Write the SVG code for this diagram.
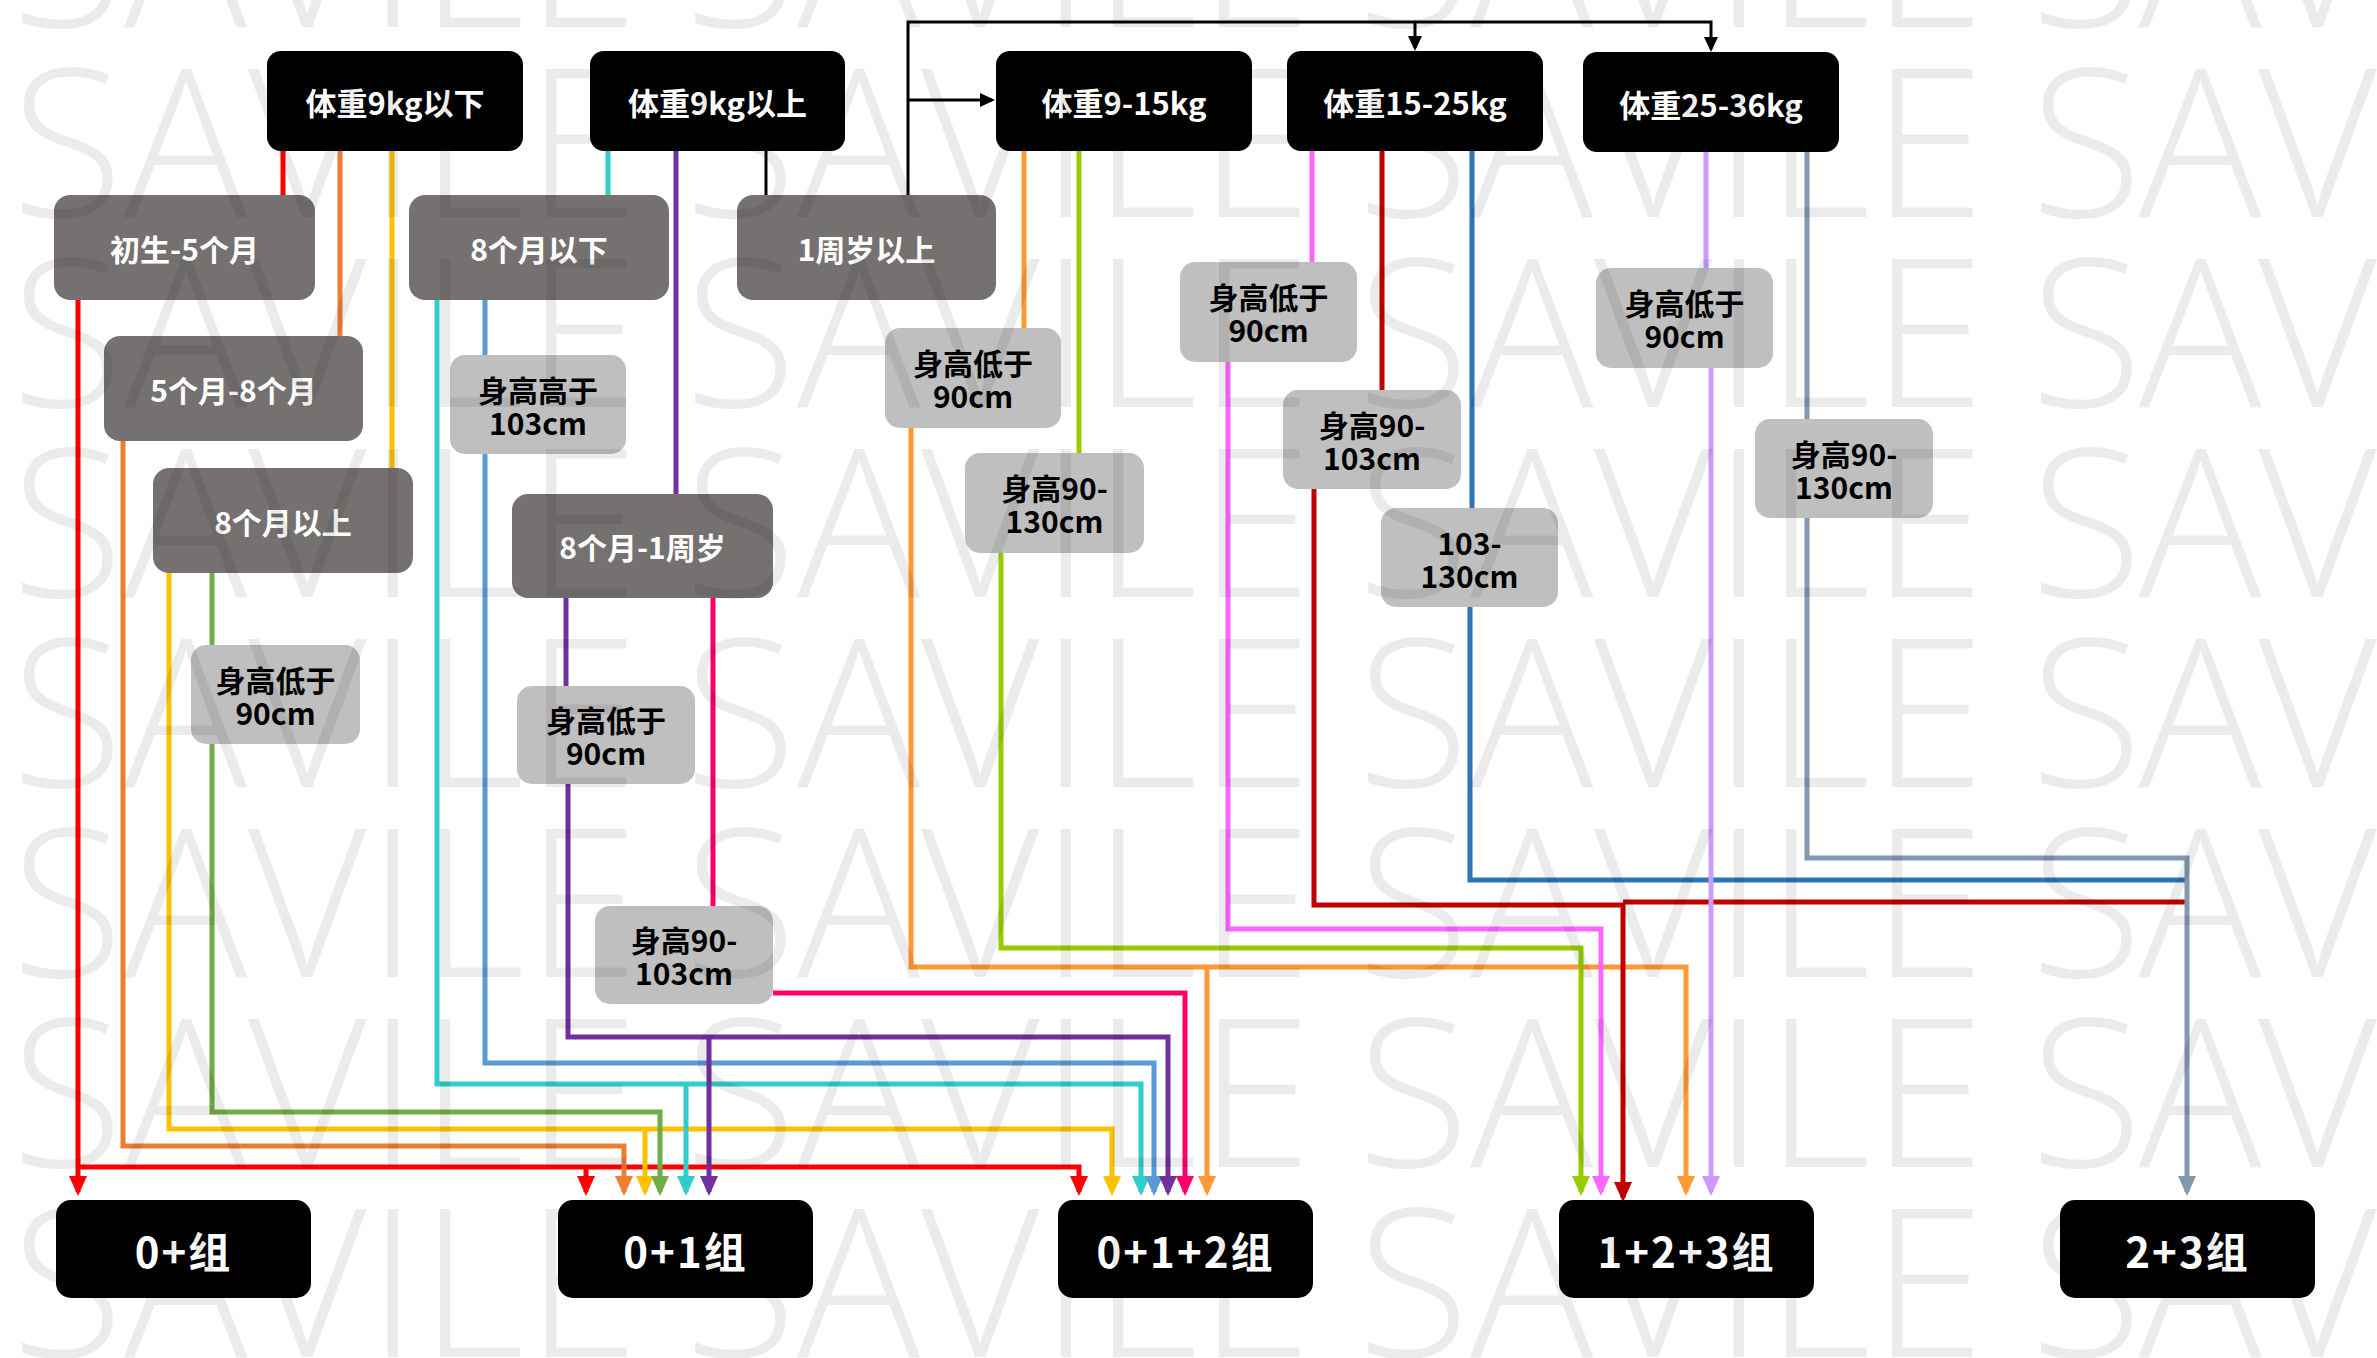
<svg xmlns="http://www.w3.org/2000/svg" width="2377" height="1358" viewBox="0 0 2377 1358">
<style>
.t{font-family:"Noto Sans CJK SC","Liberation Sans",sans-serif;font-weight:700;text-anchor:middle;dominant-baseline:central}
.blk rect{fill:#000}
.blk text{fill:#fff;font-size:31px}
.grp text{font-size:42px;letter-spacing:2px}
.dk rect{fill:#767171}
.dk text{fill:#fff;font-size:30px}
.lt rect{fill:#bfbfbf}
.lt text{fill:#000;font-size:30px}
#connectors path{fill:none;stroke-width:5;stroke-linejoin:miter;stroke-linecap:butt}
#connectors path.thin{stroke-width:3}
.wm{font-family:"Open Sans","Noto Sans","DejaVu Sans",sans-serif;font-weight:300;font-size:206px;fill:#000;fill-opacity:0.08}
</style>
<defs>
<marker id="a-red" markerUnits="userSpaceOnUse" markerWidth="20" markerHeight="18" viewBox="0 0 20 18" refX="16" refY="9" orient="auto"><path d="M0,0L20,9L0,18z" fill="#FF0000"/></marker>
<marker id="a-orange" markerUnits="userSpaceOnUse" markerWidth="20" markerHeight="18" viewBox="0 0 20 18" refX="16" refY="9" orient="auto"><path d="M0,0L20,9L0,18z" fill="#ED7D31"/></marker>
<marker id="a-yellow" markerUnits="userSpaceOnUse" markerWidth="20" markerHeight="18" viewBox="0 0 20 18" refX="16" refY="9" orient="auto"><path d="M0,0L20,9L0,18z" fill="#FFC000"/></marker>
<marker id="a-green" markerUnits="userSpaceOnUse" markerWidth="20" markerHeight="18" viewBox="0 0 20 18" refX="16" refY="9" orient="auto"><path d="M0,0L20,9L0,18z" fill="#70AD47"/></marker>
<marker id="a-cyan" markerUnits="userSpaceOnUse" markerWidth="20" markerHeight="18" viewBox="0 0 20 18" refX="16" refY="9" orient="auto"><path d="M0,0L20,9L0,18z" fill="#33CCCC"/></marker>
<marker id="a-blue" markerUnits="userSpaceOnUse" markerWidth="20" markerHeight="18" viewBox="0 0 20 18" refX="16" refY="9" orient="auto"><path d="M0,0L20,9L0,18z" fill="#5B9BD5"/></marker>
<marker id="a-purple" markerUnits="userSpaceOnUse" markerWidth="20" markerHeight="18" viewBox="0 0 20 18" refX="16" refY="9" orient="auto"><path d="M0,0L20,9L0,18z" fill="#7030A0"/></marker>
<marker id="a-pink" markerUnits="userSpaceOnUse" markerWidth="20" markerHeight="18" viewBox="0 0 20 18" refX="16" refY="9" orient="auto"><path d="M0,0L20,9L0,18z" fill="#FF0066"/></marker>
<marker id="a-orange2" markerUnits="userSpaceOnUse" markerWidth="20" markerHeight="18" viewBox="0 0 20 18" refX="16" refY="9" orient="auto"><path d="M0,0L20,9L0,18z" fill="#FF9933"/></marker>
<marker id="a-lime" markerUnits="userSpaceOnUse" markerWidth="20" markerHeight="18" viewBox="0 0 20 18" refX="16" refY="9" orient="auto"><path d="M0,0L20,9L0,18z" fill="#99CC00"/></marker>
<marker id="a-magenta" markerUnits="userSpaceOnUse" markerWidth="20" markerHeight="18" viewBox="0 0 20 18" refX="16" refY="9" orient="auto"><path d="M0,0L20,9L0,18z" fill="#FF66FF"/></marker>
<marker id="a-darkred" markerUnits="userSpaceOnUse" markerWidth="20" markerHeight="18" viewBox="0 0 20 18" refX="16" refY="9" orient="auto"><path d="M0,0L20,9L0,18z" fill="#C00000"/></marker>
<marker id="a-lavender" markerUnits="userSpaceOnUse" markerWidth="20" markerHeight="18" viewBox="0 0 20 18" refX="16" refY="9" orient="auto"><path d="M0,0L20,9L0,18z" fill="#CC99FF"/></marker>
<marker id="a-slate" markerUnits="userSpaceOnUse" markerWidth="20" markerHeight="18" viewBox="0 0 20 18" refX="16" refY="9" orient="auto"><path d="M0,0L20,9L0,18z" fill="#8497B0"/></marker>
<marker id="a-black" markerUnits="userSpaceOnUse" markerWidth="15" markerHeight="14" viewBox="0 0 15 14" refX="12" refY="7" orient="auto"><path d="M0,0L15,7L0,14z" fill="#000"/></marker>
</defs>
<rect x="0" y="0" width="2377" height="1358" fill="#fff"/>

<g id="connectors">
  <!-- red -->
  <path stroke="#FF0000" d="M283,151V195"/>
  <path stroke="#FF0000" d="M78,300V1192" marker-end="url(#a-red)"/>
  <path stroke="#FF0000" d="M78,1167H1079V1192" marker-end="url(#a-red)"/>
  <path stroke="#FF0000" d="M586,1167V1192" marker-end="url(#a-red)"/>
  <!-- orange -->
  <path stroke="#ED7D31" d="M340,151V336"/>
  <path stroke="#ED7D31" d="M123,441V1146H624V1192" marker-end="url(#a-orange)"/>
  <!-- yellow -->
  <path stroke="#FFC000" d="M392,151V468"/>
  <path stroke="#FFC000" d="M169,573V1129H1112V1192" marker-end="url(#a-yellow)"/>
  <path stroke="#FFC000" d="M645,1129V1192" marker-end="url(#a-yellow)"/>
  <!-- green -->
  <path stroke="#70AD47" d="M212,573V645"/>
  <path stroke="#70AD47" d="M212,744V1112H660V1192" marker-end="url(#a-green)"/>
  <!-- cyan -->
  <path stroke="#33CCCC" d="M608,151V195"/>
  <path stroke="#33CCCC" d="M437,300V1084H1141V1192" marker-end="url(#a-cyan)"/>
  <path stroke="#33CCCC" d="M686,1084V1192" marker-end="url(#a-cyan)"/>
  <!-- blue -->
  <path stroke="#5B9BD5" d="M485,300V355"/>
  <path stroke="#5B9BD5" d="M485,454V1063H1154V1192" marker-end="url(#a-blue)"/>
  <!-- purple -->
  <path stroke="#7030A0" d="M676,151V494"/>
  <path stroke="#7030A0" d="M566,598V686"/>
  <path stroke="#7030A0" d="M568,784V1037H1168V1192" marker-end="url(#a-purple)"/>
  <path stroke="#7030A0" d="M709,1037V1192" marker-end="url(#a-purple)"/>
  <!-- pink -->
  <path stroke="#FF0066" d="M713,598V906"/>
  <path stroke="#FF0066" d="M773,993H1185V1192" marker-end="url(#a-pink)"/>
  <!-- black -->
  <path class="thin" stroke="#000" d="M766,151V195"/>
  <path class="thin" stroke="#000" d="M908,195V22H1711V49" marker-end="url(#a-black)"/>
  <path class="thin" stroke="#000" d="M1415,22V48" marker-end="url(#a-black)"/>
  <path class="thin" stroke="#000" d="M908,100H992" marker-end="url(#a-black)"/>
  <!-- orange2 -->
  <path stroke="#FF9933" d="M1024,151V328"/>
  <path stroke="#FF9933" d="M911,428V967H1686V1192" marker-end="url(#a-orange2)"/>
  <path stroke="#FF9933" d="M1207,967V1192" marker-end="url(#a-orange2)"/>
  <!-- lime -->
  <path stroke="#99CC00" d="M1079,151V453"/>
  <path stroke="#99CC00" d="M1001,553V948H1581V1192" marker-end="url(#a-lime)"/>
  <!-- magenta -->
  <path stroke="#FF66FF" d="M1312,151V262"/>
  <path stroke="#FF66FF" d="M1228,362V929H1601V1192" marker-end="url(#a-magenta)"/>
  <!-- dark red -->
  <path stroke="#C00000" d="M1382,151V390"/>
  <path stroke="#C00000" d="M1314,489V905H1623V1198" marker-end="url(#a-darkred)"/>
  <path stroke="#C00000" d="M1623,902H2187"/>
  <!-- blue2 -->
  <path stroke="#2E75B6" d="M1472,151V508"/>
  <path stroke="#2E75B6" d="M1470,607V880H2187"/>
  <!-- lavender -->
  <path stroke="#CC99FF" d="M1706,152V268"/>
  <path stroke="#CC99FF" d="M1711,368V1192" marker-end="url(#a-lavender)"/>
  <!-- slate -->
  <path stroke="#8497B0" d="M1807,152V419"/>
  <path stroke="#8497B0" d="M1807,518V858H2187V1192" marker-end="url(#a-slate)"/>
</g>

<g id="n-w9down" class="blk"><rect x="267" y="51" width="256" height="100" rx="14"/><text class="t" x="395" y="101">体重9kg以下</text></g>
<g id="n-w9up" class="blk"><rect x="590" y="51" width="255" height="100" rx="14"/><text class="t" x="717.5" y="101">体重9kg以上</text></g>
<g id="n-w9to15" class="blk"><rect x="996" y="51" width="256" height="100" rx="14"/><text class="t" x="1124" y="101">体重9-15kg</text></g>
<g id="n-w15to25" class="blk"><rect x="1287" y="51" width="256" height="100" rx="14"/><text class="t" x="1415" y="101">体重15-25kg</text></g>
<g id="n-w25to36" class="blk"><rect x="1583" y="52" width="256" height="100" rx="14"/><text class="t" x="1711" y="103">体重25-36kg</text></g>

<g id="n-0to5m" class="dk"><rect x="54" y="195" width="261" height="105" rx="16"/><text class="t" x="184.5" y="247.5">初生-5个月</text></g>
<g id="n-5to8m" class="dk"><rect x="104" y="336" width="259" height="105" rx="16"/><text class="t" x="233.5" y="388.5">5个月-8个月</text></g>
<g id="n-8mup" class="dk"><rect x="153" y="468" width="260" height="105" rx="16"/><text class="t" x="283" y="521">8个月以上</text></g>
<g id="n-8mdown" class="dk"><rect x="409" y="195" width="260" height="105" rx="16"/><text class="t" x="539" y="247.5">8个月以下</text></g>
<g id="n-1yup" class="dk"><rect x="737" y="195" width="259" height="105" rx="16"/><text class="t" x="866.5" y="247.5">1周岁以上</text></g>
<g id="n-8mto1y" class="dk"><rect x="512" y="494" width="261" height="104" rx="16"/><text class="t" x="642.5" y="546">8个月-1周岁</text></g>

<g id="h-above103" class="lt"><rect x="450" y="355" width="176" height="99" rx="15"/><text class="t" x="538" y="388.5">身高高于</text><text class="t" x="538" y="421.5">103cm</text></g>
<g id="h-below90-a" class="lt"><rect x="191" y="645" width="169" height="99" rx="15"/><text class="t" x="275.5" y="678.5">身高低于</text><text class="t" x="275.5" y="711.5">90cm</text></g>
<g id="h-below90-b" class="lt"><rect x="517" y="686" width="178" height="98" rx="15"/><text class="t" x="606" y="719">身高低于</text><text class="t" x="606" y="752">90cm</text></g>
<g id="h-90to103-a" class="lt"><rect x="595" y="906" width="178" height="98" rx="15"/><text class="t" x="684" y="939">身高90-</text><text class="t" x="684" y="972">103cm</text></g>
<g id="h-below90-c" class="lt"><rect x="885" y="328" width="176" height="100" rx="15"/><text class="t" x="973" y="362">身高低于</text><text class="t" x="973" y="395">90cm</text></g>
<g id="h-90to130-a" class="lt"><rect x="965" y="453" width="179" height="100" rx="15"/><text class="t" x="1054.5" y="487">身高90-</text><text class="t" x="1054.5" y="520">130cm</text></g>
<g id="h-below90-d" class="lt"><rect x="1180" y="262" width="177" height="100" rx="15"/><text class="t" x="1268.5" y="296">身高低于</text><text class="t" x="1268.5" y="329">90cm</text></g>
<g id="h-90to103-b" class="lt"><rect x="1283" y="390" width="178" height="99" rx="15"/><text class="t" x="1372" y="423.5">身高90-</text><text class="t" x="1372" y="456.5">103cm</text></g>
<g id="h-103to130" class="lt"><rect x="1381" y="508" width="177" height="99" rx="15"/><text class="t" x="1469.5" y="541.5">103-</text><text class="t" x="1469.5" y="574.5">130cm</text></g>
<g id="h-below90-e" class="lt"><rect x="1596" y="268" width="177" height="100" rx="15"/><text class="t" x="1684.5" y="302">身高低于</text><text class="t" x="1684.5" y="335">90cm</text></g>
<g id="h-90to130-b" class="lt"><rect x="1755" y="419" width="178" height="99" rx="15"/><text class="t" x="1844" y="452.5">身高90-</text><text class="t" x="1844" y="485.5">130cm</text></g>

<g id="g-0" class="blk grp"><rect x="56" y="1200" width="255" height="98" rx="15"/><text class="t" x="183.5" y="1249">0+组</text></g>
<g id="g-01" class="blk grp"><rect x="558" y="1200" width="255" height="98" rx="15"/><text class="t" x="685.5" y="1249">0+1组</text></g>
<g id="g-012" class="blk grp"><rect x="1058" y="1200" width="255" height="98" rx="15"/><text class="t" x="1185.5" y="1249">0+1+2组</text></g>
<g id="g-123" class="blk grp"><rect x="1559" y="1200" width="255" height="98" rx="15"/><text class="t" x="1686.5" y="1249">1+2+3组</text></g>
<g id="g-23" class="blk grp"><rect x="2060" y="1200" width="255" height="98" rx="15"/><text class="t" x="2187.5" y="1249">2+3组</text></g>

<g id="watermark" class="wm">
<text x="11" y="27" textLength="628" lengthAdjust="spacing">SAVILE</text><text x="684" y="27" textLength="628" lengthAdjust="spacing">SAVILE</text><text x="1357" y="27" textLength="628" lengthAdjust="spacing">SAVILE</text><text x="2030" y="27" textLength="347" lengthAdjust="spacing">SAV</text>
<text x="11" y="217" textLength="628" lengthAdjust="spacing">SAVILE</text><text x="684" y="217" textLength="628" lengthAdjust="spacing">SAVILE</text><text x="1357" y="217" textLength="628" lengthAdjust="spacing">SAVILE</text><text x="2030" y="217" textLength="347" lengthAdjust="spacing">SAV</text>
<text x="11" y="407" textLength="628" lengthAdjust="spacing">SAVILE</text><text x="684" y="407" textLength="628" lengthAdjust="spacing">SAVILE</text><text x="1357" y="407" textLength="628" lengthAdjust="spacing">SAVILE</text><text x="2030" y="407" textLength="347" lengthAdjust="spacing">SAV</text>
<text x="11" y="597" textLength="628" lengthAdjust="spacing">SAVILE</text><text x="684" y="597" textLength="628" lengthAdjust="spacing">SAVILE</text><text x="1357" y="597" textLength="628" lengthAdjust="spacing">SAVILE</text><text x="2030" y="597" textLength="347" lengthAdjust="spacing">SAV</text>
<text x="11" y="787" textLength="628" lengthAdjust="spacing">SAVILE</text><text x="684" y="787" textLength="628" lengthAdjust="spacing">SAVILE</text><text x="1357" y="787" textLength="628" lengthAdjust="spacing">SAVILE</text><text x="2030" y="787" textLength="347" lengthAdjust="spacing">SAV</text>
<text x="11" y="977" textLength="628" lengthAdjust="spacing">SAVILE</text><text x="684" y="977" textLength="628" lengthAdjust="spacing">SAVILE</text><text x="1357" y="977" textLength="628" lengthAdjust="spacing">SAVILE</text><text x="2030" y="977" textLength="347" lengthAdjust="spacing">SAV</text>
<text x="11" y="1167" textLength="628" lengthAdjust="spacing">SAVILE</text><text x="684" y="1167" textLength="628" lengthAdjust="spacing">SAVILE</text><text x="1357" y="1167" textLength="628" lengthAdjust="spacing">SAVILE</text><text x="2030" y="1167" textLength="347" lengthAdjust="spacing">SAV</text>
<text x="11" y="1357" textLength="628" lengthAdjust="spacing">SAVILE</text><text x="684" y="1357" textLength="628" lengthAdjust="spacing">SAVILE</text><text x="1357" y="1357" textLength="628" lengthAdjust="spacing">SAVILE</text><text x="2030" y="1357" textLength="347" lengthAdjust="spacing">SAV</text>
</g>
</svg>
